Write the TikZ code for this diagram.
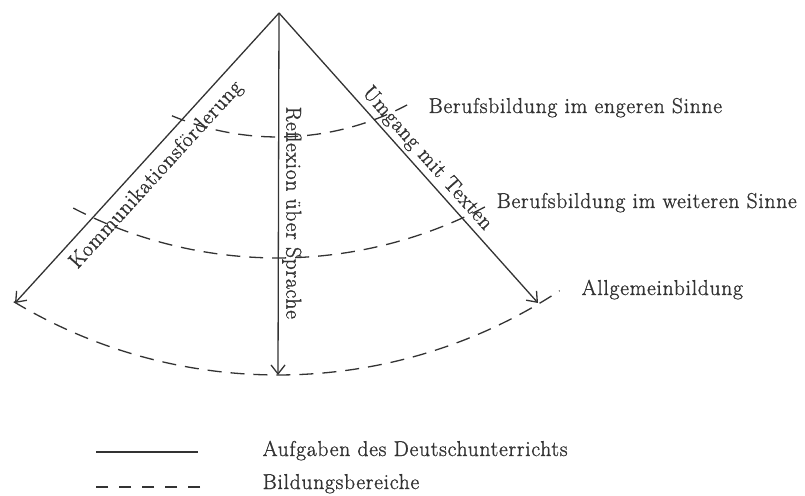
\documentclass[tikz,border=0pt]{standalone}
\usepackage{fontspec}
\setmainfont{Latin Modern Roman}[LetterSpace=3.5,FakeBold=1.2]
\usetikzlibrary{arrows.meta}
\definecolor{ink}{HTML}{333333}
\tikzset{
  ln/.style={line width=1.3pt, draw=ink},
  arr/.style={ln, -{Straight Barb[length=9pt,width=14pt,line width=1.3pt]}},
  dsh/.style={line width=1.3pt, draw=ink, dash pattern=on 14pt off 9pt},
  lbl/.style={text=ink, font=\fontsize{21.5}{26}\selectfont, inner sep=1.5pt},
}
\begin{document}
\begin{tikzpicture}[x=1pt,y=1pt]
\useasboundingbox[fill=white] (0,0) rectangle (805,495);
% main lines
\coordinate (A) at (279,482);
\coordinate (L) at (15,192);
\coordinate (M) at (278,120);
\coordinate (R) at (538,192);
\draw[arr] (A) -- (L);
\draw[arr] (A) -- (M);
\draw[arr] (A) -- (R);
% dashed arcs (Bildungsbereiche)
\draw[dsh] (278,634) ++(-112.6:276) arc[start angle=-112.6, end angle=-62.1, radius=276];
\draw[dsh] (278,682) ++(-117.4:445) arc[start angle=-117.4, end angle=-61.8, radius=445];
\draw[dsh] (278,633) ++(-121:513) arc[start angle=-121, end angle=-56.7, radius=513];
% labels on lines
\path (L) -- (A) node[lbl, pos=0.484, sloped, below=7pt] (k) {Kommunikationsförderung};
\path (A) -- (R) node[lbl, pos=0.533, sloped, above=2pt] (u) {Umgang mit Texten};
\path (A) -- (M) node[lbl, pos=0.552, rotate=-90, anchor=south, yshift=2pt] (r) {Reflexion über Sprache};
% area labels
\node[lbl, anchor=base west] (t1) at (427,382) {Berufsbildung im engeren Sinne};
\node[lbl, anchor=base west] (t2) at (495,287) {Berufsbildung im weiteren Sinne};
\node[lbl, anchor=base west] (t3) at (580,200) {Allgemeinbildung};
% legend
\coordinate (s1) at (96,43);
\coordinate (s2) at (198,43);
\coordinate (d1) at (200,8);
\coordinate (d2) at (96,8);
\draw[ln] (s1) -- (s2);
\draw[ln, dash pattern=on 12pt off 11pt] (d1) -- (d2);
\node[lbl, anchor=base west] (lg1) at (261,39) {Aufgaben des Deutschunterrichts};
\node[lbl, anchor=base west] (lg2) at (261,6) {Bildungsbereiche};
\end{tikzpicture}
\end{document}
